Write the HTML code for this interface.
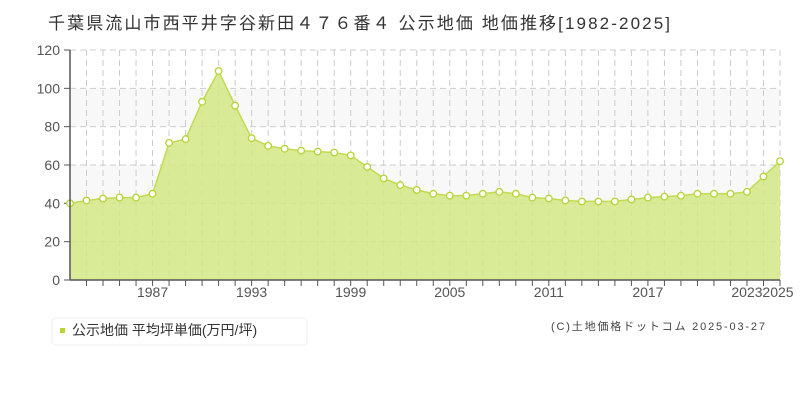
<!DOCTYPE html>
<html><head><meta charset="utf-8"><style>
body{margin:0;background:#fff;width:800px;height:400px;overflow:hidden;font-family:"Liberation Sans","Noto Sans CJK JP",sans-serif;}
</style></head><body>
<svg id="s" width="800" height="400" xmlns="http://www.w3.org/2000/svg" font-family="Liberation Sans, Noto Sans CJK JP, sans-serif">
<text x="48" y="29" font-size="17" fill="#333" textLength="622" lengthAdjust="spacing">千葉県流山市西平井字谷新田４７６番４ 公示地価 地価推移[1982-2025]</text>
<rect x="70" y="88.3" width="710" height="38.3" fill="#f9f8f9"/>
<rect x="70" y="165" width="710" height="38.3" fill="#f9f8f9"/>
<g id="grid"></g>
<g id="data"></g>
<line x1="70" y1="50" x2="70" y2="280" stroke="#555" stroke-width="1.5"/>
<line x1="70" y1="280" x2="780" y2="280" stroke="#555" stroke-width="1.5"/>
<g id="lab" font-size="14" fill="#555"></g>
<rect x="52" y="318" width="255" height="27" rx="4" fill="#fff" stroke="#eee"/>
<rect x="60" y="328" width="5" height="5" fill="#b5d532"/>
<text x="72" y="335" font-size="14" fill="#333">公示地価 平均坪単価(万円/坪)</text>
<text x="551" y="330" font-size="11" fill="#444" textLength="214" lengthAdjust="spacing">(C)土地価格ドットコム 2025-03-27</text>
</svg>
<script>
const vals=[40,41.5,42.5,43,43,45,71.5,73.5,93,109,91,74,70,68.5,67.5,67,66.5,65,59,53,49.5,47,45,44,44,45,46,45,43,42.5,41.5,41,41,41,42,43,43.5,44,45,45,45,46,54,62];
const X=y=>70+(y-1982)*710/43, Y=d=>280-d*230/120;
let g='',l='';
for(let y=1983;y<=2025;y++){g+=`<line x1="${X(y)}" y1="50" x2="${X(y)}" y2="280" stroke="#ccc" stroke-dasharray="6,4"/>`;g+=`<line x1="${X(y)}" y1="280" x2="${X(y)}" y2="286" stroke="#555"/>`;}
for(let d=20;d<=120;d+=20){g+=`<line x1="70" y1="${Y(d)}" x2="780" y2="${Y(d)}" stroke="#ccc" stroke-dasharray="6,4"/>`;}
for(let d=0;d<=120;d+=20){g+=`<line x1="64" y1="${Y(d)}" x2="70" y2="${Y(d)}" stroke="#555"/>`;l+=`<text x="60" y="${Y(d)+5}" text-anchor="end">${d}</text>`;}
[1987,1993,1999,2005,2011,2017].forEach(y=>l+=`<text x="${X(y)}" y="297" text-anchor="middle">${y}</text>`);
l+=`<text x="${X(2023)}" y="297" text-anchor="middle">2023</text><text x="${X(2025)-2}" y="297" text-anchor="middle">2025</text>`;
document.getElementById('grid').innerHTML=g;document.getElementById('lab').innerHTML=l;
let pts=vals.map((d,i)=>[X(1982+i),Y(d)]);
let p=pts.map(q=>q.join(',')).join(' ');
let dd=`<polygon points="70,280 ${p} 780,280" fill="#d4e886" fill-opacity="0.85"/><polyline points="${p}" fill="none" stroke="#c0dc50" stroke-width="1.5"/>`;
pts.forEach(q=>dd+=`<circle cx="${q[0]}" cy="${q[1]}" r="3.3" fill="#fff" stroke="#b5d532" stroke-width="1.3"/>`);
document.getElementById('data').innerHTML=dd;
</script>
</body></html>
